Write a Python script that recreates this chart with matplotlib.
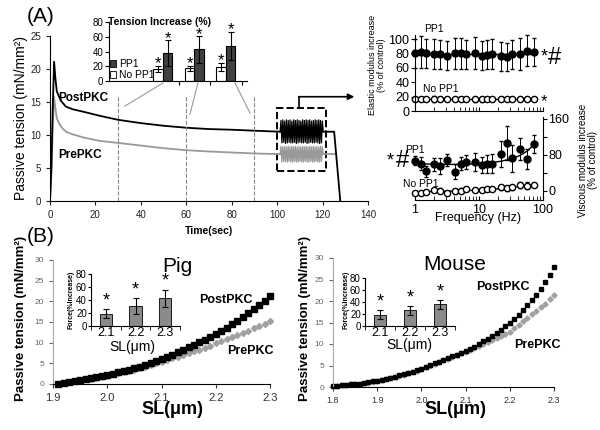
import numpy as np
import matplotlib.pyplot as plt
from matplotlib.patches import Rectangle, Patch
from matplotlib.lines import Line2D

plt.rcParams['font.family'] = ['Liberation Sans', 'DejaVu Sans']
plt.rcParams['axes.linewidth'] = 0.8

# ---- panel A: stress relaxation trace ----
t_main = [0, 0.6, 1.2, 1.8, 2.4, 3, 4, 5, 7, 10, 15, 22, 30, 40, 50, 60, 70, 80, 90, 101.3]
post_main = [0, 5, 14, 21.1, 18.5, 16.6, 15.8, 15.1, 14.3, 13.9, 13.5, 12.9, 12.3, 11.8, 11.4,
             11.1, 10.9, 10.8, 10.65, 10.5]
pre_main = [0, 4, 11, 15.8, 14, 12.5, 11.8, 11.2, 10.5, 10.1, 9.6, 9.1, 8.8, 8.4, 8.0,
            7.7, 7.5, 7.35, 7.2, 7.1]
osc_post = [10.5, 12.2, 8.8, 12.3, 8.9, 12.1, 8.7, 12.3, 8.8, 12.2, 8.9, 12.3, 8.8, 12.1, 8.8,
            12.3, 8.9, 12.2, 8.7, 12.3, 8.8, 12.2, 8.9, 12.1, 8.8, 12.3, 8.8, 12.2, 8.9, 12.3,
            8.7, 12.2, 8.8, 12.3, 8.9, 12.1, 8.8, 12.2, 8.8, 12.3, 8.9, 12.2, 8.8, 12.3, 8.7,
            12.2, 8.8, 12.1, 10.5]
osc_pre = [7.1, 8.3, 5.9, 8.2, 6.0, 8.3, 5.9, 8.2, 5.9, 8.3, 6.0, 8.2, 5.9, 8.3, 5.9,
           8.2, 6.0, 8.3, 5.9, 8.2, 5.9, 8.3, 6.0, 8.2, 5.9, 8.3, 5.9, 8.2, 6.0, 8.3,
           5.9, 8.2, 5.9, 8.3, 6.0, 8.2, 5.9, 8.3, 5.9, 8.2, 6.0, 8.3, 5.9, 8.2, 5.9,
           8.3, 6.0, 8.2, 7.1]
t_tail_post = [120.3, 125.1, 127.8]
post_tail = [10.5, 10.5, 0]
t_tail_pre = [120.3, 126.0]
pre_tail = [7.1, 7.1]
marks_t = [30, 60, 90]

# inset: tension increase (%)
no_pp1 = [16, 17, 19]
no_pp1_err = [4, 4, 5]
pp1 = [38, 43, 48]
pp1_err = [17, 18, 19]

# ---- panel A: frequency sweep ----
freq = [1, 1.25, 1.5, 2, 2.5, 3.2, 4.2, 5.2, 6.3, 8.6, 11, 13.5, 16, 22, 27, 33, 44, 57, 73]
el_pp1 = [80, 82, 80, 79, 79, 77, 80, 80, 79, 81, 77, 78, 79, 76, 75, 79, 79, 84, 82]
el_pp1_err = [20, 22, 20, 21, 20, 20, 22, 21, 20, 22, 20, 20, 21, 20, 20, 20, 22, 21, 19]
el_no = [17, 17, 17, 17, 17, 17, 17, 17, 17, 16, 16, 17, 17, 17, 17, 17, 17, 17, 17]
el_no_err = [3, 3, 3, 4, 3, 3, 3, 3, 3, 4, 4, 3, 3, 3, 3, 3, 3, 3, 3]
el_fit_x = [1, 73]
el_fit_pp1 = [79, 79]
el_fit_no = [17, 17]
vi_pp1 = [67, 61, 44, 59, 56, 69, 43, 61, 64, 65, 58, 61, 61, 82, 106, 73, 93, 71, 104]
vi_pp1_err = [10, 15, 12, 14, 18, 14, 16, 15, 16, 20, 18, 20, 22, 28, 38, 30, 25, 22, 20]
vi_no = [-4, -4, -2, 2, 1, -4, -1, 1, 4, 2, 2, 4, 4, 8, 6, 8, 13, 12, 13]
vi_no_err = [3, 3, 3, 4, 5, 3, 5, 5, 4, 3, 3, 4, 3, 5, 6, 6, 6, 7, 5]
vi_fit_pp1 = [62, 61, 60, 59.5, 59, 59, 59, 59, 59.5, 60, 61, 62, 63.5, 66, 69, 72, 79, 89, 104]
vi_fit_no = [-2, -2, -1.5, -1, -1, -0.5, 0, 0.5, 1, 1.5, 2, 3, 4, 5, 6.5, 8, 10, 12, 14]

# ---- panel B: passive tension vs SL ----
pig_post = [0.1, 0.3, 0.5, 0.7, 0.9, 1.1, 1.4, 1.6, 1.9, 2.2, 2.5, 2.8, 3.1, 3.4, 3.8, 4.2, 4.6,
            5.1, 5.6, 6.1, 6.6, 7.1, 7.7, 8.3, 8.9, 9.5, 10.1, 10.7, 11.4, 12.0, 12.8, 13.6,
            14.4, 15.3, 16.2, 17.1, 18.1, 19.1, 20.2, 21.3]
pig_pre = [0.1, 0.3, 0.5, 0.7, 0.9, 1.1, 1.3, 1.5, 1.8, 2.0, 2.3, 2.6, 2.9, 3.2, 3.5, 3.9, 4.2,
           4.6, 5.0, 5.4, 5.8, 6.2, 6.6, 7.0, 7.4, 7.9, 8.3, 8.8, 9.3, 9.8, 10.3, 10.8, 11.3,
           11.8, 12.4, 12.9, 13.5, 14.0, 14.6, 15.2]
mouse_post = [0.2, 0.3, 0.4, 0.5, 0.6, 0.7, 0.8, 0.9, 1.1, 1.3, 1.5, 1.7, 1.9, 2.1, 2.4, 2.7, 3.0,
              3.3, 3.6, 3.9, 4.3, 4.7, 5.1, 5.5, 5.9, 6.3, 6.7, 7.1, 7.5, 7.9, 8.4, 8.9, 9.4,
              10.0, 10.6, 11.2, 11.9, 12.6, 13.3, 14.1, 14.9, 15.8, 16.8, 17.9, 19.0, 20.2,
              21.5, 22.9, 24.4, 26.0, 27.8]
mouse_pre = [0.2, 0.3, 0.4, 0.5, 0.6, 0.7, 0.8, 0.9, 1.0, 1.2, 1.4, 1.6, 1.8, 2.0, 2.3, 2.6, 2.9,
             3.2, 3.5, 3.8, 4.2, 4.6, 5.0, 5.4, 5.8, 6.2, 6.6, 7.0, 7.4, 7.8, 8.2, 8.6, 9.0,
             9.5, 9.9, 10.4, 10.9, 11.4, 11.9, 12.4, 12.9, 13.7, 14.5, 15.3, 16.1, 16.9, 17.7,
             18.5, 19.4, 20.4, 21.4]
sl_cats = ['2.1', '2.2', '2.3']
pig_force = [19, 31, 43]
pig_force_err = [7, 12, 13]
mouse_force = [19, 26, 36]
mouse_force_err = [8, 7, 7]

W, H = 600, 430
GREY = '#999999'


def px(x0, y0, x1, y1):
    return [x0 / W, 1 - y1 / H, (x1 - x0) / W, (y1 - y0) / H]


def ftext(x, y, s, **kw):
    kw.setdefault('ha', 'center')
    kw.setdefault('va', 'center')
    return fig.text(x / W, 1 - y / H, s, **kw)


def fline(x0, y0, x1, y1, **kw):
    fig.add_artist(Line2D([x0 / W, x1 / W], [1 - y0 / H, 1 - y1 / H], **kw))


fig = plt.figure(figsize=(6, 4.3), dpi=100)

# ---------------- A main ----------------
ax = fig.add_axes(px(50, 36, 368, 201))
t_osc = np.linspace(101.3, 120.3, len(osc_post))
ax.plot(t_main, pre_main, color=GREY, lw=1.3)
ax.plot(t_osc, osc_pre, color=GREY, lw=0.9)
ax.plot(t_tail_pre, pre_tail, color=GREY, lw=1.3)
ax.plot(t_main, post_main, color='black', lw=1.3)
ax.plot(t_osc, osc_post, color='black', lw=0.9)
ax.plot(t_tail_post, post_tail, color='black', lw=1.3)
for t in marks_t:
    ax.plot([t, t], [0, 16], ls='--', color='#888888', lw=0.8)
ax.add_patch(Rectangle((100, 4.5), 21.6, 9.6, fill=False, ls='--', lw=1.4, ec='black'))
ax.plot([109.7, 109.7], [14.1, 15.8], color='black', lw=1.2)
ax.annotate('', xy=(134, 15.8), xytext=(109.5, 15.8), annotation_clip=False,
            arrowprops=dict(arrowstyle='-|>', color='black', lw=1.2, mutation_scale=9,
                            shrinkA=0, shrinkB=0))
ax.set_xlim(0, 140)
ax.set_ylim(0, 25)
ax.set_xticks(range(0, 141, 20))
ax.set_yticks(range(0, 26, 5))
ax.tick_params(labelsize=7, length=3, width=0.8, colors='#222222')
for s in ['top', 'right']:
    ax.spines[s].set_visible(False)
ftext(21, 118, 'Passive tension (mN/mm²)', rotation=90, fontsize=10)
ftext(209, 231, 'Time(sec)', fontsize=7.5, weight='bold')
ftext(83, 98, 'PostPKC', fontsize=8.5, weight='bold')
ftext(80, 155, 'PrePKC', fontsize=8.5, weight='bold')
ftext(41, 17, '(A)', fontsize=15)

# inset bars
axi = fig.add_axes(px(109, 22, 247, 81))
g = np.arange(3)
ekw = dict(elinewidth=0.8, capthick=0.8)
axi.bar(g - 0.15, no_pp1, 0.3, yerr=no_pp1_err, color='white', edgecolor='black', lw=0.8,
        capsize=2, error_kw=ekw)
axi.bar(g + 0.15, pp1, 0.3, yerr=pp1_err, color='#404040', edgecolor='black', lw=0.8,
        capsize=2, error_kw=ekw)
for i in g:
    axi.text(i - 0.15, no_pp1[i] + no_pp1_err[i] + 3, '*', ha='center', va='center', fontsize=12)
    axi.text(i + 0.15, pp1[i] + pp1_err[i] + 2, '*', ha='center', va='center', fontsize=12)
axi.set_xlim(-1.71, 2.67)
axi.set_ylim(0, 80)
axi.set_yticks(range(0, 81, 20))
axi.set_xticks([0.5, 1.5, 2.5])
axi.set_xticklabels([])
axi.tick_params(labelsize=7, length=3, width=0.8, pad=1)
for s in ['top', 'right']:
    axi.spines[s].set_visible(False)
axi.legend(handles=[Patch(fc='#404040', ec='black', lw=0.6), Patch(fc='white', ec='black', lw=0.6)],
           labels=['PP1', 'No PP1'], loc='lower left', bbox_to_anchor=(110 / W, 1 - 80 / H),
           bbox_transform=fig.transFigure, frameon=False, fontsize=7.5, handlelength=0.6,
           handleheight=0.6, handletextpad=0.3, labelspacing=0.1, borderpad=0, borderaxespad=0)
ftext(159, 22, 'Tension Increase (%)', fontsize=7.5, weight='bold')
fline(163, 83, 125, 106, color=GREY, lw=0.8)
fline(198, 83, 190, 114, color=GREY, lw=0.8)
fline(235, 83, 250, 113, color=GREY, lw=0.8)

# ---------------- A elastic ----------------
ae = fig.add_axes(px(415, 35.4, 543, 111))
ae.set_xscale('log')
ae.plot(el_fit_x, el_fit_pp1, color='black', lw=1)
ae.plot(el_fit_x, el_fit_no, color='black', lw=1)
ae.errorbar(freq, el_pp1, yerr=el_pp1_err, fmt='o', color='black', ms=5, elinewidth=0.7,
            capsize=1.5, clip_on=False)
ae.errorbar(freq, el_no, yerr=el_no_err, fmt='o', mfc='white', mec='black', color='black', ms=4.5,
            elinewidth=0.7, capsize=1.5, clip_on=False)
ae.set_xlim(1, 100)
ae.set_ylim(0, 105)
ae.set_yticks(range(0, 101, 20))
ae.set_xticks([1, 10, 100])
ae.set_xticklabels([])
ae.tick_params(axis='x', which='both', direction='in', length=3)
ae.tick_params(axis='y', labelsize=9, length=3, pad=1)
for s in ['top', 'right']:
    ae.spines[s].set_visible(False)
ftext(377, 65, 'Elastic modulus increase\n(% of control)', rotation=90, fontsize=6.5,
      linespacing=1.1)
ftext(434, 29, 'PP1', fontsize=7.5)
ftext(441, 89, 'No PP1', fontsize=7.5)
ftext(544, 57, '*', fontsize=13)
ftext(555, 58, '#', fontsize=17)
ftext(544, 102, '*', fontsize=12)

# ---------------- A viscous ----------------
av = fig.add_axes(px(415, 116.7, 543, 200))
av.set_xscale('log')
av.plot(freq, vi_fit_pp1, color='black', lw=1)
av.plot(freq, vi_fit_no, color='black', lw=1)
av.errorbar(freq, vi_pp1, yerr=vi_pp1_err, fmt='o', color='black', ms=5, elinewidth=0.7,
            capsize=1.5, clip_on=False)
av.errorbar(freq, vi_no, yerr=vi_no_err, fmt='o', mfc='white', mec='black', color='black', ms=4.5,
            elinewidth=0.7, capsize=1.5, clip_on=False)
av.set_xlim(1, 100)
av.set_ylim(-20, 165)
av.yaxis.tick_right()
av.set_yticks([0, 40, 80, 120, 160])
av.set_yticklabels(['0', '', '80', '', '160'])
av.set_xticks([1, 10, 100])
av.set_xticklabels(['1', '10', '100'])
av.tick_params(axis='x', which='both', direction='in', length=3, labelsize=9, pad=3)
av.tick_params(axis='y', labelsize=9, length=3, pad=1)
for s in ['top', 'left']:
    av.spines[s].set_visible(False)
ftext(478, 218, 'Frequency (Hz)', fontsize=9)
ftext(588, 160, 'Viscous modulus increase\n(% of control)', rotation=90, fontsize=7,
      linespacing=1.1)
ftext(415, 150, 'PP1', fontsize=7.5)
ftext(421, 184, 'No PP1', fontsize=7.5)
ftext(390, 161, '*', fontsize=13)
ftext(403, 161, '#', fontsize=17)


# ---------------- B ----------------
def sl_panel(rect, x0, post, pre, xlim, title, tpos, postpos, prepos, ms, xl_size):
    a = fig.add_axes(rect)
    sl = np.round(x0 + 0.01 * np.arange(len(post)), 2)
    a.plot(sl, pre, 'D', color='#a0a0a0', ms=ms * 0.8, clip_on=False)
    a.plot(sl, post, 's', color='black', ms=ms, clip_on=False)
    a.set_xlim(*xlim)
    a.set_ylim(0, 30)
    a.set_yticks(range(0, 31, 5))
    a.tick_params(axis='y', labelsize=6, colors='#666666', length=3)
    a.tick_params(axis='x', labelsize=xl_size, colors='#333333', length=3)
    a.spines['left'].set_color('#aaaaaa')
    for s in ['top', 'right']:
        a.spines[s].set_visible(False)
    ftext(*tpos, title, fontsize=15)
    ftext(*postpos, 'PostPKC', fontsize=9, weight='bold')
    ftext(*prepos, 'PrePKC', fontsize=9, weight='bold')
    return a


def force_inset(rect, vals, errs, ylab_x, sl_pos):
    b = fig.add_axes(rect)
    g = np.arange(3)
    b.bar(g, vals, 0.42, yerr=errs, color='#8a8a8a', edgecolor='black', lw=0.6, capsize=2,
          error_kw=dict(elinewidth=0.8, capthick=0.8))
    for i in g:
        b.text(i, vals[i] + errs[i] + 13, '*', ha='center', va='center', fontsize=13)
    b.set_xlim(-0.5, 2.5)
    b.set_ylim(0, 80)
    b.set_yticks(range(0, 81, 20))
    b.set_xticks(g)
    b.set_xticklabels(sl_cats)
    b.set_xticks([-0.5, 0.5, 1.5, 2.5], minor=True)
    b.tick_params(axis='x', which='major', length=0, labelsize=9, pad=1)
    b.tick_params(axis='x', which='minor', length=3)
    b.tick_params(axis='y', labelsize=7, length=2, pad=1)
    for s in ['top', 'right']:
        b.spines[s].set_visible(False)
    ftext(ylab_x, 300, 'Force(%Increase)', rotation=90, fontsize=5, weight='bold')
    ftext(*sl_pos, 'SL(μm)', fontsize=10)
    return b


ap = sl_panel(px(53, 260, 270, 384), 1.91, pig_post, pig_pre, (1.9, 2.3), 'Pig', (177, 266),
              (226, 300), (250, 351), 3.8, 8)
ap.set_xticks([1.9, 2.0, 2.1, 2.2, 2.3])
ap.set_xticklabels(['1.9', '2.0', '2.1', '2.2', '2.3'])
force_inset(px(91, 274, 180, 326), pig_force, pig_force_err, 71, (132, 347))

am = sl_panel(px(333, 258, 554, 387), 1.80, mouse_post, mouse_pre, (1.8, 2.3), 'Mouse', (455, 264),
              (503, 287), (537, 345), 3.3, 6.5)
am.set_xticks([1.8, 1.9, 2.0, 2.1, 2.2, 2.3])
am.set_xticklabels(['1.8', '1.9', '2.0', '2.1', '2.2', '2.3'])
force_inset(px(365, 278, 455, 326), mouse_force, mouse_force_err, 346, (409, 345))

ftext(21, 318, 'Passive tension (mN/mm²)', rotation=90, fontsize=9.5, weight='bold')
ftext(305, 318, 'Passive tension (mN/mm²)', rotation=90, fontsize=9.5, weight='bold')
ftext(172, 410, 'SL(μm)', fontsize=13, weight='bold')
ftext(455, 410, 'SL(μm)', fontsize=13, weight='bold')
ftext(41, 237, '(B)', fontsize=15)

fig.savefig('out.png', dpi=100)
